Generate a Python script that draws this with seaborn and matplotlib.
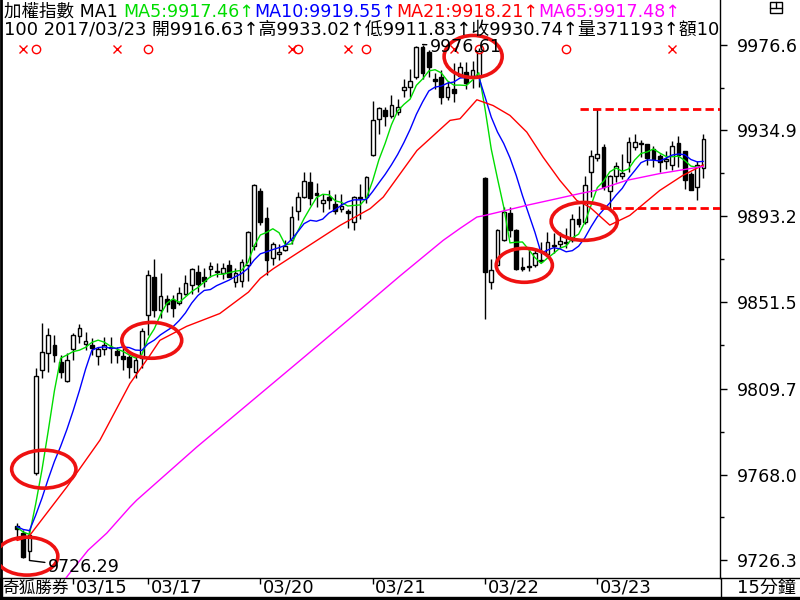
import numpy as np
import pandas as pd
import matplotlib
matplotlib.use("Agg")
import matplotlib.pyplot as plt
import seaborn as sns
from matplotlib.patches import Ellipse, Rectangle
from matplotlib.lines import Line2D

# ---- 15分鐘 K線資料 (03/15 尾盤 ~ 03/23) ----
open_px = [
    9743.1, 9739.7, 9731.0, 9768.7, 9818.6, 9826.8, 9831.0, 9822.5, 9813.3, 9828.8,
    9835.1, 9831.5, 9831.0, 9825.4, 9828.8, 9830.0, 9828.0, 9825.4, 9824.9, 9817.6,
    9824.4, 9845.2, 9863.8, 9847.7, 9853.0, 9852.5, 9851.2, 9855.8, 9859.8, 9866.3,
    9863.8, 9867.5, 9866.2, 9865.6, 9869.5, 9861.4, 9862.0, 9869.5, 9879.0, 9905.3,
    9892.3, 9872.9, 9875.0, 9877.0, 9881.6, 9895.6, 9902.6, 9909.9, 9904.5, 9899.5,
    9902.6, 9899.0, 9896.6, 9896.0, 9890.5, 9902.0, 9902.6, 9922.8, 9940.6, 9945.0,
    9942.0, 9943.8, 9954.4, 9956.0, 9960.8, 9975.5, 9972.9, 9960.0, 9960.8, 9951.1,
    9955.0, 9961.5, 9963.5, 9960.8, 9960.8, 9912.0, 9861.4, 9869.5, 9882.0, 9895.0,
    9886.5, 9868.5, 9869.0, 9869.5, 9871.5, 9875.1, 9878.9, 9879.6, 9880.3, 9881.6,
    9891.8, 9890.5, 9914.8, 9921.5, 9926.8, 9905.3, 9912.6, 9912.6, 9919.6, 9926.9,
    9929.0, 9928.3, 9926.1, 9922.3, 9920.0, 9918.0, 9928.8, 9924.9, 9914.0, 9907.4,
    9916.63]
high_px = [
    9744.6, 9741.0, 9741.0, 9819.6, 9841.4, 9839.0, 9835.6, 9826.0, 9826.8, 9836.6,
    9840.9, 9837.0, 9834.0, 9830.0, 9834.6, 9834.6, 9829.8, 9829.8, 9826.0, 9826.0,
    9839.0, 9867.0, 9872.5, 9865.6, 9855.0, 9855.0, 9859.0, 9864.6, 9868.0, 9869.5,
    9868.0, 9871.0, 9870.5, 9870.5, 9872.0, 9868.0, 9872.5, 9886.0, 9909.0, 9907.0,
    9898.0, 9881.0, 9880.0, 9882.0, 9898.5, 9905.0, 9915.0, 9915.0, 9909.3, 9904.3,
    9905.8, 9904.3, 9904.3, 9897.0, 9903.0, 9909.0, 9912.9, 9949.0, 9946.3, 9946.5,
    9951.9, 9950.0, 9960.0, 9964.5, 9976.0, 9976.61, 9974.0, 9963.0, 9964.0, 9959.0,
    9967.4, 9968.0, 9968.0, 9968.5, 9975.0, 9912.5, 9872.7, 9887.0, 9898.0, 9898.0,
    9887.0, 9873.5, 9877.8, 9877.8, 9880.8, 9885.6, 9885.0, 9885.6, 9887.4, 9894.6,
    9898.5, 9913.0, 9925.5, 9945.1, 9928.5, 9913.4, 9919.6, 9923.6, 9931.7, 9933.3,
    9930.5, 9928.5, 9927.6, 9923.6, 9925.0, 9930.0, 9932.2, 9925.0, 9914.9, 9920.0,
    9933.02]
low_px = [
    9737.2, 9727.3, 9726.29, 9768.0, 9815.0, 9817.6, 9822.5, 9814.7, 9813.0, 9823.4,
    9831.7, 9828.3, 9826.0, 9821.0, 9825.9, 9822.0, 9822.0, 9818.6, 9815.0, 9815.0,
    9819.5, 9835.6, 9844.3, 9843.8, 9846.7, 9844.3, 9850.0, 9855.0, 9855.8, 9856.4,
    9858.8, 9863.8, 9863.8, 9863.0, 9863.8, 9859.0, 9859.0, 9862.0, 9877.0, 9889.0,
    9864.7, 9869.5, 9872.0, 9876.5, 9880.0, 9891.3, 9902.0, 9898.6, 9897.8, 9895.3,
    9897.0, 9894.2, 9895.3, 9887.5, 9886.4, 9892.0, 9899.5, 9922.5, 9933.3, 9937.3,
    9941.0, 9942.5, 9951.0, 9951.0, 9960.0, 9960.0, 9960.8, 9955.0, 9947.9, 9949.5,
    9948.6, 9960.8, 9955.0, 9955.5, 9955.9, 9843.6, 9858.2, 9869.0, 9881.5, 9883.2,
    9867.0, 9866.7, 9866.7, 9868.7, 9871.0, 9875.0, 9875.3, 9877.8, 9877.8, 9881.0,
    9888.0, 9889.5, 9902.6, 9920.0, 9905.8, 9897.3, 9910.0, 9911.5, 9914.7, 9925.2,
    9922.0, 9918.0, 9917.4, 9914.7, 9916.0, 9915.7, 9917.4, 9906.7, 9905.8, 9901.0,
    9911.83]
close_px = [
    9741.6, 9727.8, 9738.5, 9815.7, 9827.3, 9835.6, 9826.0, 9817.6, 9823.4, 9835.6,
    9839.0, 9833.0, 9829.5, 9828.8, 9830.7, 9829.3, 9826.0, 9823.9, 9820.0, 9823.4,
    9837.6, 9864.6, 9847.7, 9854.5, 9850.6, 9848.7, 9856.0, 9861.0, 9867.6, 9860.3,
    9862.0, 9869.0, 9866.6, 9868.0, 9864.0, 9865.6, 9871.0, 9885.6, 9908.3, 9890.5,
    9871.9, 9879.8, 9876.0, 9879.0, 9892.9, 9902.6, 9910.3, 9902.0, 9903.8, 9901.0,
    9901.4, 9895.8, 9898.1, 9895.0, 9902.4, 9902.7, 9912.4, 9940.1, 9946.0, 9942.0,
    9947.5, 9946.2, 9956.0, 9958.8, 9975.5, 9963.0, 9965.6, 9959.0, 9951.1, 9955.9,
    9953.0, 9965.6, 9958.0, 9964.3, 9973.7, 9866.2, 9867.4, 9886.5, 9895.3, 9886.5,
    9867.9, 9867.8, 9868.5, 9875.5, 9872.2, 9880.8, 9879.4, 9881.1, 9880.8, 9892.0,
    9889.7, 9908.3, 9922.3, 9923.6, 9907.4, 9912.6, 9917.5, 9914.3, 9929.3, 9929.3,
    9928.3, 9921.4, 9921.3, 9919.6, 9921.0, 9927.6, 9922.8, 9910.8, 9906.0, 9918.0,
    9930.74]
# 03/15 畫面外的前幾根收盤 (均線起算用)
prev_close = [9742.0, 9744.0, 9741.0, 9745.0, 9743.0, 9740.0, 9744.0, 9742.0, 9745.0]

# MA21 / MA65 讀自圖上 (K棒序號, 數值)
ma21_bar = [0, 1.8, 8.0, 13.3, 18.1, 21.3, 22.9, 27.2, 32.5, 37.1, 39.0, 41.1, 46.4,
            51.8, 56.6, 58.7, 64.1, 69.4, 71.0, 73.7, 76.3, 79.0, 81.7, 84.3, 87.0,
            89.7, 91.8, 95.0, 98.2, 103.0, 106.7, 110.0]
ma21_val = [9736.0, 9737.5, 9762.0, 9784.7, 9812.1, 9825.8, 9833.1, 9839.9, 9846.1,
            9856.5, 9863.2, 9867.9, 9878.3, 9888.9, 9897.0, 9902.6, 9925.2, 9939.8,
            9940.6, 9949.8, 9947.0, 9942.2, 9934.1, 9922.0, 9910.7, 9901.0, 9897.7,
            9889.0, 9893.7, 9905.8, 9913.1, 9918.21]
ma65_bar = [4.0, 8.2, 11.4, 14.4, 18.1, 19.2, 28.8, 45.4, 53.4, 61.4, 68.3, 71.0, 73.7,
            75.0, 77.9, 81.7, 86.5, 90.2, 92.9, 97.7, 103.0, 110.0]
ma65_val = [9702.0, 9719.2, 9731.3, 9739.6, 9752.2, 9755.6, 9781.3, 9823.4, 9843.8,
            9864.4, 9881.6, 9887.4, 9892.9, 9893.7, 9895.8, 9898.6, 9901.8, 9904.3,
            9905.9, 9910.7, 9914.0, 9917.48]

day_bar = [9, 21, 39, 57, 75, 93]
day_label = ["03/15", "03/17", "03/20", "03/21", "03/22", "03/23"]
y_ticks = [9726.3, 9768.0, 9809.7, 9851.5, 9893.2, 9934.9, 9976.6]

# 訊號 (x 賣 / o 買)
sig_bar = [1, 3, 16, 21, 44, 45, 53, 56, 70, 74, 88, 105]
sig_kind = ['x', 'o', 'x', 'o', 'x', 'o', 'x', 'o', 'x', 'o', 'o', 'x']

# 紅圈標記 (中心K棒, 中心價, 寬(根), 高(點))
circles = [(1.6, 9728.4, 9.9, 18.4), (4.3, 9770.6, 10.3, 18.4), (21.6, 9833.1, 9.6, 17.4),
           (73.1, 9970.8, 9.3, 20.4), (81.3, 9869.5, 9.0, 16.5), (90.9, 9890.8, 10.6, 18.4)]
# 壓力/支撐虛線 (價位, 起始K棒)
levels = [(9945.1, 90.2), (9897.3, 93.4)]

header1 = [("加權指數 MA1 ", "black"), ("MA5:9917.46↑", "#00dd00"),
           ("MA10:9919.55↑", "#0000ff"), ("MA21:9918.21↑", "#ff0000"),
           ("MA65:9917.48↑", "#ff00ff")]
header2 = "100 2017/03/23 開9916.63↑高9933.02↑低9911.83↑收9930.74↑量371193↑額10"

sns.set_theme(style="white")
FONT = ['DejaVu Sans', 'Noto Sans CJK TC']
plt.rcParams['font.family'] = FONT

fig = plt.figure(figsize=(8, 6), dpi=100, facecolor='white')
ax = fig.add_axes([1 / 800, 22 / 600, 719 / 800, 578 / 600])
ax.set_facecolor('white')

bars = np.arange(len(close_px))
o = np.array(open_px)
c = np.array(close_px)
h = np.array(high_px)
l = np.array(low_px)
up = c >= o

# K棒
ax.vlines(bars, l, h, color='black', linewidth=1, zorder=2)
body_lo = np.minimum(o, c)
body_h = np.maximum(np.abs(c - o), 0.4)
ax.bar(bars[up], body_h[up], bottom=body_lo[up], width=0.6, color='white',
       edgecolor='black', linewidth=1, zorder=3)
ax.bar(bars[~up], body_h[~up], bottom=body_lo[~up], width=0.6, color='black',
       edgecolor='black', linewidth=1, zorder=3)

# 均線
all_close = pd.Series(prev_close + close_px)
n_prev = len(prev_close)
ma5 = all_close.rolling(5).mean().iloc[n_prev:].to_numpy()
ma10 = all_close.rolling(10).mean().iloc[n_prev:].to_numpy()
sns.lineplot(x=bars, y=ma5, color='#00dd00', linewidth=1, ax=ax, zorder=4)
sns.lineplot(x=bars, y=ma10, color='#0000ff', linewidth=1, ax=ax, zorder=4)
sns.lineplot(x=ma21_bar, y=ma21_val, color='#ff0000', linewidth=1, ax=ax, zorder=4)
sns.lineplot(x=ma65_bar, y=ma65_val, color='#ff00ff', linewidth=1, ax=ax, zorder=4)

# 紅圈
for cx, cy, w, hh in circles:
    ax.add_patch(Ellipse((cx, cy), w, hh, fill=False, edgecolor='#ee1111',
                         linewidth=2.6, zorder=6))

# 虛線
for lv, start in levels:
    ax.hlines(lv, start, 113, colors='#ff0000', linestyles=(0, (3, 1.5)),
              linewidth=2, zorder=5)

# 訊號
sig_tr = ax.get_xaxis_transform()
for b, k in zip(sig_bar, sig_kind):
    if k == 'x':
        ax.plot(b, 0.915, marker='x', ms=6, mew=1, color='#ff0000', transform=sig_tr,
                zorder=6, clip_on=False)
    else:
        ax.plot(b, 0.915, marker='o', ms=6, mew=1, mfc='none', mec='#ff0000',
                transform=sig_tr, zorder=6, clip_on=False)

# 最高/最低
ax.annotate(f"{max(high_px):.2f}", xy=(65, max(high_px)), xytext=(66.2, 9975.6),
            fontsize=12.5, va='center', ha='left', color='black', zorder=7,
            arrowprops=dict(arrowstyle='-', color='black', lw=1, shrinkA=0, shrinkB=0))
ax.annotate(f"{min(low_px):.2f}", xy=(2, min(low_px)), xytext=(5.0, 9723.0),
            fontsize=12.5, va='center', ha='left', color='black', zorder=7,
            arrowprops=dict(arrowstyle='-', color='black', lw=1, shrinkA=0, shrinkB=0))

ax.set_xlim(-2.56, 112.66)
ax.set_ylim(9717.8, 9998.2)

# 右側價格軸
ax.yaxis.tick_right()
ax.set_yticks(y_ticks)
ax.set_yticklabels([f"{v:.1f}" for v in y_ticks])
ax.set_yticks([(a + b) / 2 for a, b in zip(y_ticks[:-1], y_ticks[1:])], minor=True)
ax.tick_params(axis='y', which='major', right=True, left=False, direction='out',
               length=5, width=1, color='black', pad=7, labelsize=12.5, labelcolor='black')
ax.tick_params(axis='y', which='minor', right=True, left=False, direction='out',
               length=3, width=1, color='black')

# 日期軸
ax.set_xticks(day_bar)
ax.set_xticklabels([])
ax.tick_params(axis='x', bottom=True, direction='out', length=4, width=1, color='black')
for b, lab in zip(day_bar, day_label):
    ax.text(b + 0.4, -0.017, lab, transform=ax.get_xaxis_transform(), fontsize=13,
            va='center', ha='left', color='black')

ax.grid(False)
for side in ['left', 'right', 'bottom']:
    ax.spines[side].set_color('black')
    ax.spines[side].set_linewidth(1)
ax.spines['left'].set_linewidth(2)
ax.spines['top'].set_visible(False)

# 標題列
fig.canvas.draw()
renderer = fig.canvas.get_renderer()
inv = ax.transAxes.inverted()
x = 0.0042
for txt, col in header1:
    t = ax.text(x, 0.9706, txt, color=col, fontsize=12.6, transform=ax.transAxes,
                va='baseline', ha='left', zorder=8)
    bb = t.get_window_extent(renderer=renderer)
    x = inv.transform((bb.x1, bb.y0))[0]
ax.text(0.0042, 0.9394, header2, color='black', fontsize=12.9, transform=ax.transAxes,
        va='baseline', ha='left', zorder=8, clip_on=True)

# 外框與底部欄
fig.text(2 / 800, 1 - 588 / 600, "奇狐勝券", fontsize=12, va='center', ha='left',
         color='black')
fig.text(766 / 800, 1 - 588 / 600, "15分鐘", fontsize=13, va='center', ha='center',
         color='black')
fig.add_artist(Line2D([720 / 800, 1], [22 / 600, 22 / 600], color='black', lw=1))
fig.add_artist(Line2D([720.5 / 800, 720.5 / 800], [3 / 600, 22 / 600], color='black', lw=1))
fig.add_artist(Rectangle((0, 0), 1, 3 / 600, color='black', transform=fig.transFigure))
fig.add_artist(Rectangle((0, 0), 2 / 800, 22 / 600, color='black', transform=fig.transFigure))
fig.add_artist(Rectangle((770 / 800, 1 - 13 / 600), 12 / 800, 11 / 600, fill=False,
                         edgecolor='black', lw=1, transform=fig.transFigure))
fig.add_artist(Line2D([770 / 800, 782 / 800], [1 - 8 / 600, 1 - 8 / 600], color='black', lw=1))
fig.add_artist(Line2D([776 / 800, 776 / 800], [1 - 2 / 600, 1 - 8 / 600], color='black', lw=1))

fig.savefig("out.png", dpi=100)
plt.close(fig)
